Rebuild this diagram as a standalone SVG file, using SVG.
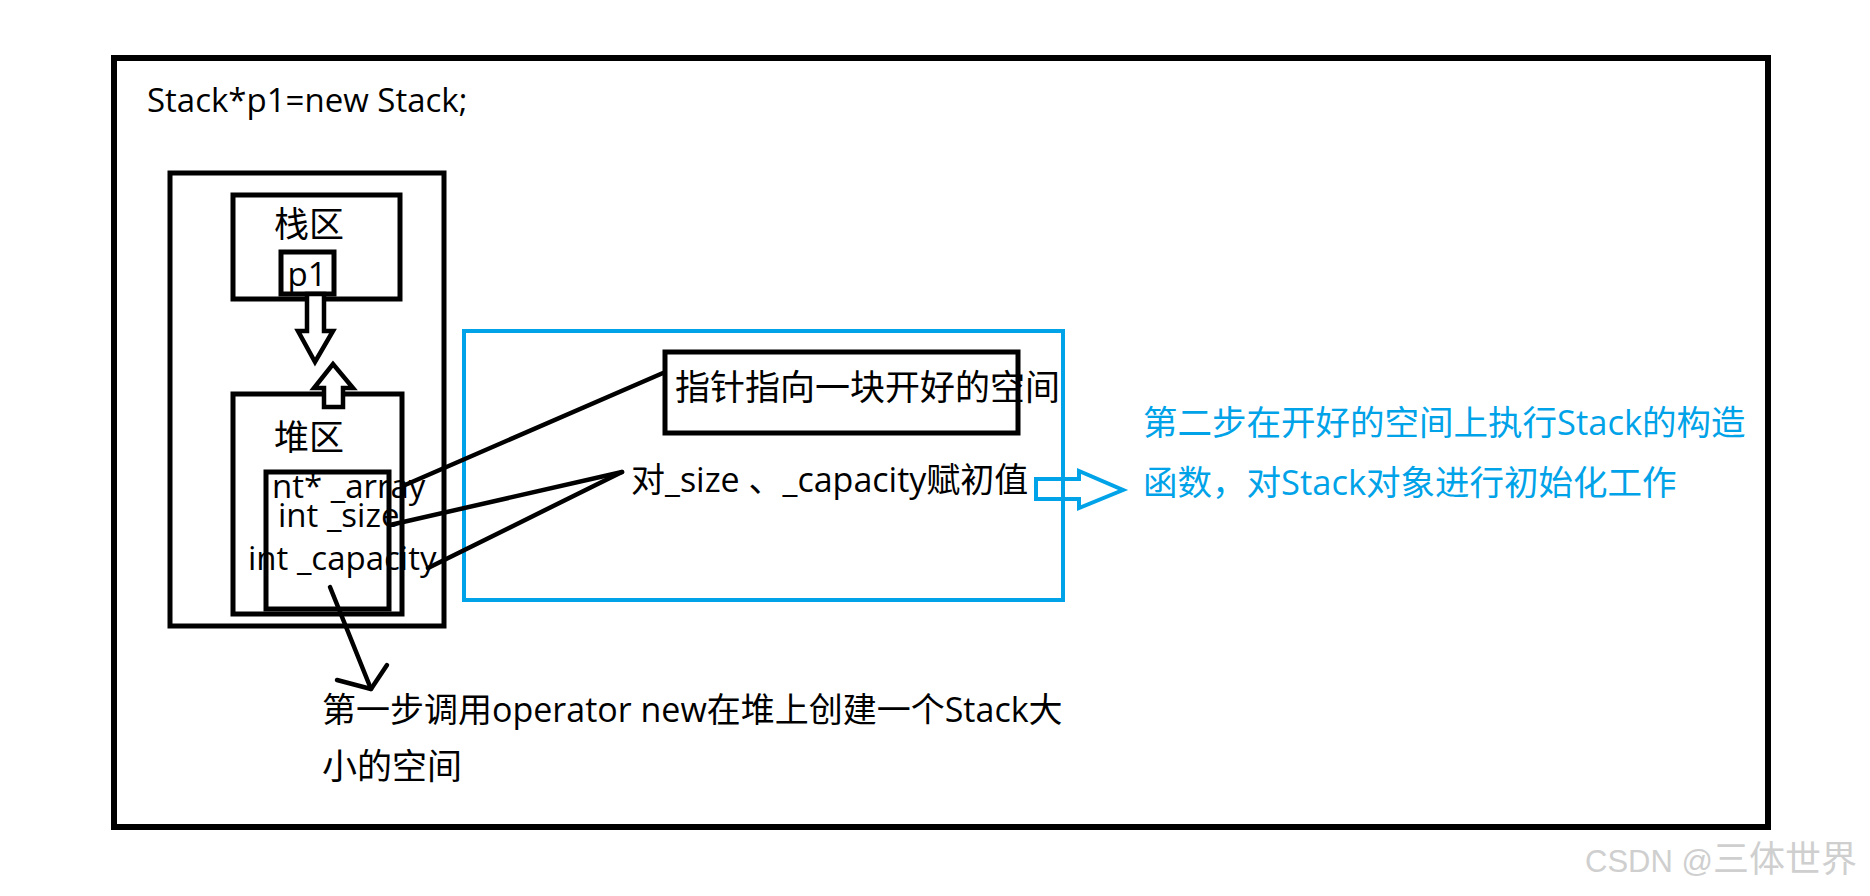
<svg xmlns="http://www.w3.org/2000/svg" width="1870" height="896" viewBox="0 0 1870 896">
  <style>
    .box { fill: none; stroke: #000; stroke-width: 5; }
    .bbox { fill: none; stroke: #00a2e8; stroke-width: 4; }
    .t { font-family: "Open Sans", "Noto Sans CJK SC", sans-serif; font-size: 34px; fill: #000; }
    .lat { font-size: 33px; }
    .cjk { font-size: 35px; }
    .bt { font-family: "Open Sans", "Noto Sans CJK SC", sans-serif; font-size: 34.5px; fill: #00a2e8; }
    .ln { fill: none; stroke: #000; stroke-width: 4.5; stroke-linecap: round; stroke-linejoin: round; }
    .wm { font-family: "Liberation Sans", "Noto Sans CJK SC", sans-serif; font-size: 31px; fill: #cfcfcf; }
  </style>
  <rect width="1870" height="896" fill="#fff"/>
  <g id="frame">
    <rect x="114" y="58" width="1654" height="769" fill="none" stroke="#000" stroke-width="6"/>
    <text class="t lat" x="147" y="112">Stack*p1=new Stack;</text>
  </g>
  <g id="memory">
    <rect class="box" x="170" y="173" width="274" height="453"/>
  </g>
  <g id="stack-area">
    <rect class="box" x="233" y="195" width="167" height="104"/>
    <text class="t cjk" x="309" y="237" text-anchor="middle">栈区</text>
  </g>
  <g id="p1">
    <rect class="box" x="281" y="252" width="53" height="42" fill="#fff"/>
    <text class="t lat" x="307" y="286" text-anchor="middle">p1</text>
  </g>
  <g id="heap-area">
    <rect class="box" x="233" y="394" width="169" height="220"/>
    <text class="t cjk" x="309" y="450" text-anchor="middle">堆区</text>
  </g>
  <g id="stack-object">
    <rect class="box" x="266" y="472" width="123" height="137"/>
    <text class="t lat" x="272" y="498">nt* _array</text>
    <text class="t lat" x="278" y="527">int _size</text>
    <text class="t lat" x="248" y="570">int _capacity</text>
  </g>
  <g id="init-area">
    <rect class="bbox" x="464" y="331" width="599" height="269"/>
  </g>
  <g id="pointer-note">
    <rect class="box" x="665" y="352" width="353" height="81"/>
    <text class="t cjk" x="675" y="400">指针指向一块开好的空间</text>
  </g>
  <g id="init-note">
    <text class="t" x="631" y="492">对_size 、_capacity赋初值</text>
  </g>
  <g id="step1-note">
    <text class="t" x="322" y="722">第一步调用operator new在堆上创建一个Stack大</text>
    <text class="t cjk" x="322" y="779">小的空间</text>
  </g>
  <g id="step2-note">
    <text class="bt" x="1143" y="435">第二步在开好的空间上执行Stack的构造</text>
    <text class="bt" x="1143" y="495">函数，对Stack对象进行初始化工作</text>
  </g>
  <g id="connectors">
    <polygon points="307,294 307,331 298,331 315,362 333,331 324,331 324,294" fill="#fff" stroke="#000" stroke-width="4.5" stroke-linejoin="miter"/>
    <polygon points="324,407 324,388 314,388 333,364 353,388 343,388 343,407" fill="#fff" stroke="#000" stroke-width="4.5" stroke-linejoin="miter"/>
    <line class="ln" x1="405" y1="485" x2="663" y2="373"/>
    <line class="ln" x1="390" y1="525" x2="622" y2="472"/>
    <line class="ln" x1="428" y1="568" x2="622" y2="472"/>
    <line class="ln" x1="330" y1="587" x2="371" y2="689"/>
    <polyline class="ln" points="337,680 371,689 387,665"/>
    <polygon points="1036,479 1079,479 1079,471 1123,490 1079,508 1079,499 1036,499" fill="none" stroke="#00a2e8" stroke-width="4"/>
  </g>
  <text class="wm" x="1585" y="872">CSDN @<tspan font-size="36">三体世界</tspan></text>
</svg>
